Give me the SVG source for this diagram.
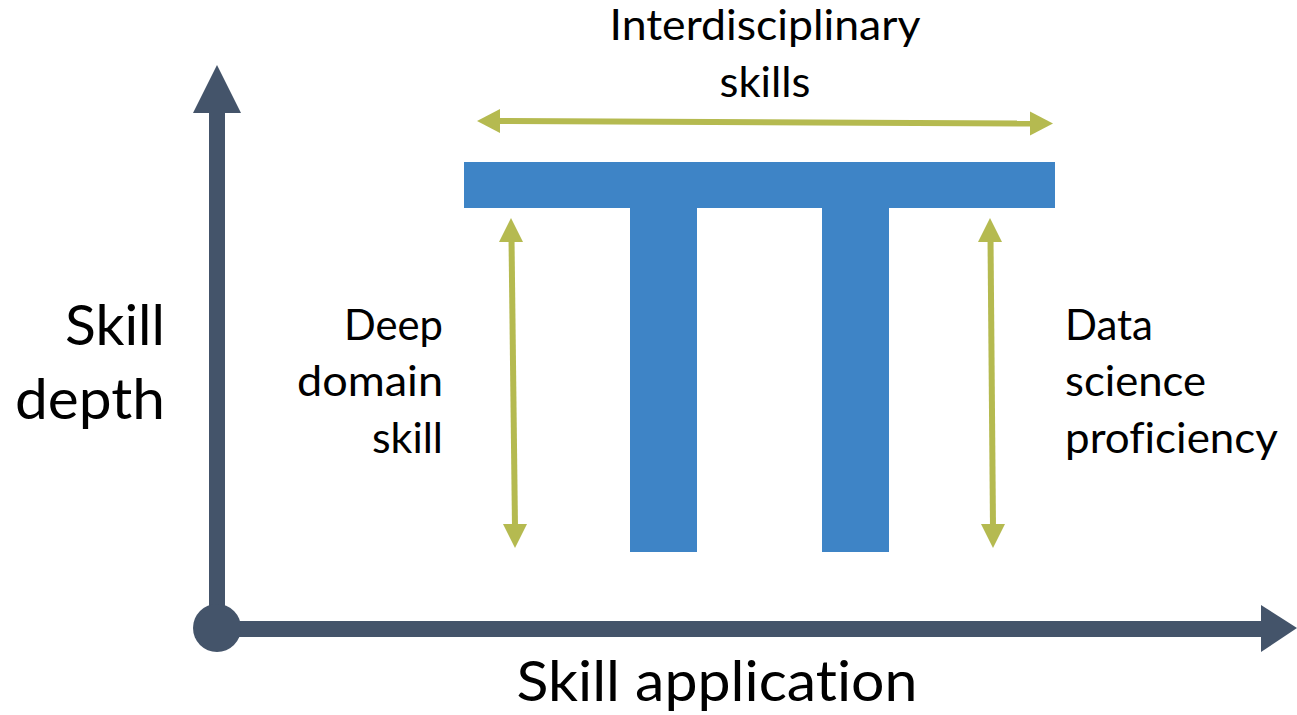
<svg xmlns="http://www.w3.org/2000/svg" width="1297" height="715" viewBox="0 0 1297 715">
<style>
text{font-family:Lato,"Open Sans","Liberation Sans",sans-serif;fill:#000;font-variant-ligatures:none;font-feature-settings:"liga" 0,"dlig" 0}
.lbl{font-size:43px}
.ax{font-size:57px}
.axis{fill:#44546A}
.gline{stroke:#B5BA50;stroke-width:6;fill:none}
.ghead{fill:#B5BA50}
</style>
<rect width="1297" height="715" fill="#fff"/>
<g id="pi-shape">
<path d="M464,162 H1055 V208 H889 V552 H822 V208 H697 V552 H630 V208 H464 Z" fill="#3E84C6"/>
</g>
<g id="axes">
<rect class="axis" x="209" y="110" width="16" height="520"/>
<polygon class="axis" points="217,65 241,113 193,113"/>
<rect class="axis" x="215" y="621" width="1049" height="16"/>
<polygon class="axis" points="1297,628 1261,605 1261,652"/>
<circle class="axis" cx="217" cy="628" r="24"/>
</g>
<g id="connectors">
<line class="gline" x1="498" y1="121" x2="1032" y2="123.5"/>
<polygon class="ghead" points="477,121 500,109 500,133"/>
<polygon class="ghead" points="1053,123.5 1030,111.5 1030,135.5"/>
<line class="gline" x1="511.5" y1="238" x2="515" y2="528"/>
<polygon class="ghead" points="511,218 499,242 523,242"/>
<polygon class="ghead" points="515,548 503,524 527,524"/>
<line class="gline" x1="990.5" y1="238" x2="993" y2="528"/>
<polygon class="ghead" points="990,218 978,242 1002,242"/>
<polygon class="ghead" points="993,548 981,524 1005,524"/>
</g>
<g id="label-interdisciplinary">
<text class="lbl" x="765" y="40" text-anchor="middle" textLength="311" lengthAdjust="spacingAndGlyphs">Interdisciplinary</text>
<text class="lbl" x="765" y="97" text-anchor="middle" textLength="91" lengthAdjust="spacingAndGlyphs">skills</text>
</g>
<g id="label-deep-domain">
<text class="lbl" x="443" y="340" text-anchor="end" textLength="99" lengthAdjust="spacingAndGlyphs">Deep</text>
<text class="lbl" x="443" y="396" text-anchor="end" textLength="146" lengthAdjust="spacingAndGlyphs">domain</text>
<text class="lbl" x="443" y="453" text-anchor="end" textLength="71" lengthAdjust="spacingAndGlyphs">skill</text>
</g>
<g id="label-data-science">
<text class="lbl" x="1065" y="340" textLength="88" lengthAdjust="spacingAndGlyphs">Data</text>
<text class="lbl" x="1065" y="396" textLength="141" lengthAdjust="spacingAndGlyphs">science</text>
<text class="lbl" x="1065" y="453" textLength="213" lengthAdjust="spacingAndGlyphs">proficiency</text>
</g>
<g id="label-skill-depth">
<text class="ax" x="165" y="345" text-anchor="end" textLength="100" lengthAdjust="spacingAndGlyphs">Skill</text>
<text class="ax" x="165" y="419" text-anchor="end" textLength="150" lengthAdjust="spacingAndGlyphs">depth</text>
</g>
<g id="label-skill-application">
<text class="ax" x="717" y="701" text-anchor="middle" textLength="401" lengthAdjust="spacingAndGlyphs">Skill application</text>
</g>
</svg>
